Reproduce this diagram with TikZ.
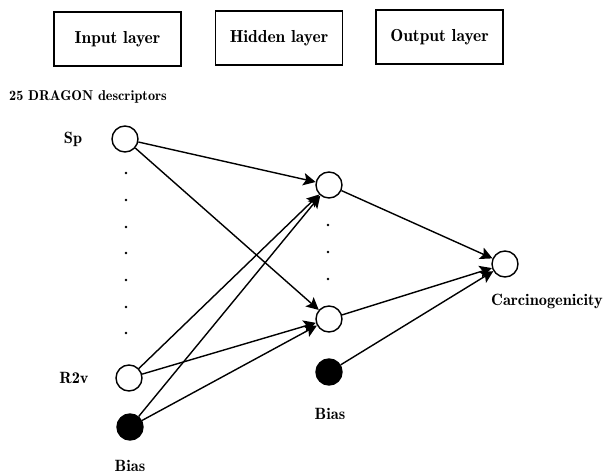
\documentclass[tikz,border=0pt]{standalone}
\usepackage{tikz}
\usetikzlibrary{arrows.meta}

\begin{document}
\begin{tikzpicture}[x=0.02cm,y=-0.02cm,
    font=\fontsize{9.3}{11}\selectfont\fontseries{b}\selectfont,
    layerbox/.style={draw,line width=1pt,minimum width=2.54cm,minimum height=1.08cm,
        font=\fontsize{9.9}{11}\selectfont\fontseries{b}\selectfont},
    neuron/.style={draw,thick,circle,minimum size=0.52cm,inner sep=0},
    biasunit/.style={neuron,fill=black},
    conn/.style={thick,-{Stealth[length=7pt,width=7pt,inset=1.5pt]}}]
\useasboundingbox (0,0) rectangle (604,475);
% layer titles
\node[layerbox] (inbox) at (117.5,39) {Input layer};
\node[layerbox] (hidbox) at (279,38) {Hidden layer};
\node[layerbox] (outbox) at (439.5,37) {Output layer};
\node[anchor=west,font=\fontsize{8.1}{10}\selectfont\fontseries{b}\selectfont]
    (desc) at (3,97) {25 DRAGON descriptors};
% units
\node[neuron] (sp) at (125,139) {};
\node[neuron] (r2v) at (129,378) {};
\node[biasunit] (bin) at (130,427) {};
\node[neuron] (h1) at (329,185) {};
\node[neuron] (h2) at (329,319) {};
\node[biasunit] (bhid) at (329,372) {};
\node[neuron] (out) at (505,264) {};
\node (lsp) at (73,139) {Sp};
\node (lr2v) at (74,378) {R2v};
\node (lbin) at (130,466) {Bias};
\node (lbhid) at (330,414) {Bias};
\node (lout) at (547,301) {Carcinogenicity};
\foreach \y in {173,200,227,253,280,307,333}
    \fill (126,\y) circle (1.3);
\foreach \y in {225,252,279}
    \fill (328,\y) circle (1.3);
% weights
\foreach \a in {sp,r2v,bin}
    \foreach \b in {h1,h2}
        \draw[conn] (\a) -- (\b);
\foreach \a in {h1,h2,bhid}
    \draw[conn] (\a) -- (out);
\end{tikzpicture}
\end{document}
